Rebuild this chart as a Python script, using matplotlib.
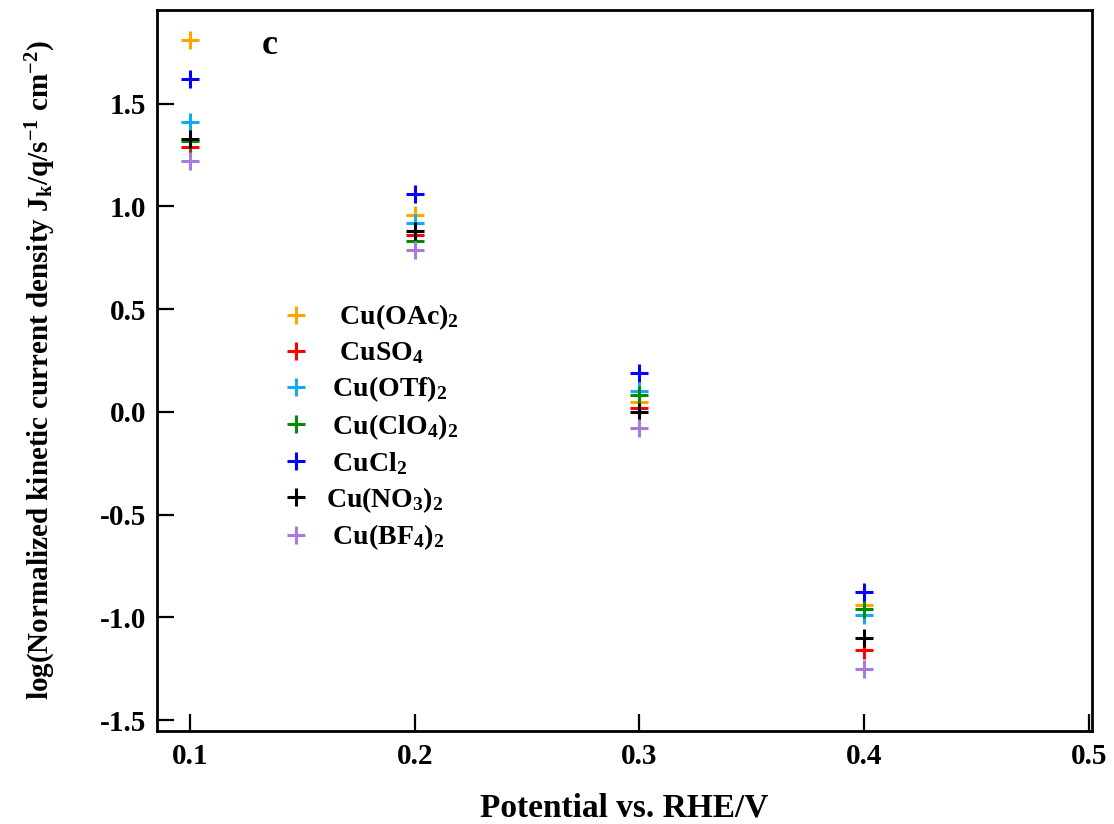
import matplotlib
matplotlib.use("Agg")
import matplotlib.pyplot as plt

# data
potential = [0.1, 0.2, 0.3, 0.4]
labels = [
    r"  Cu(OAc)$_2$",
    r"  CuSO$_4$",
    r" Cu(OTf)$_2$",
    r" Cu(ClO$_4$)$_2$",
    r" CuCl$_2$",
    r"Cu(NO$_3$)$_2$",
    r" Cu(BF$_4$)$_2$",
]
colors = ["#FFA500", "#FF0000", "#10AAF5", "#008C00", "#0000FF", "#000000", "#A57BE0"]
cu_oac = [1.81, 0.96, 0.05, -0.94]
cu_so4 = [1.29, 0.86, 0.02, -1.16]
cu_otf = [1.41, 0.92, 0.10, -0.99]
cu_clo4 = [1.32, 0.83, 0.08, -0.96]
cu_cl2 = [1.62, 1.06, 0.19, -0.875]
cu_no3 = [1.33, 0.88, 0.00, -1.10]
cu_bf4 = [1.22, 0.79, -0.08, -1.25]
series = [cu_oac, cu_so4, cu_otf, cu_clo4, cu_cl2, cu_no3, cu_bf4]

plt.rcParams["font.family"] = ["Liberation Serif", "DejaVu Serif"]
plt.rcParams["font.weight"] = "bold"
plt.rcParams["mathtext.fontset"] = "custom"
plt.rcParams["mathtext.rm"] = "Liberation Serif:bold"
plt.rcParams["mathtext.it"] = "Liberation Serif:bold"
plt.rcParams["mathtext.bf"] = "Liberation Serif:bold"

fig = plt.figure(figsize=(11.14, 8.24), dpi=100)
ax = fig.add_axes([0.141, 0.113, 0.839, 0.875])

for ys, lab, c in zip(series, labels, colors):
    ax.plot(potential, ys, linestyle="none", marker="+", markersize=13,
            markeredgewidth=2.2, color=c, label=lab)

ax.set_xlim(0.0853, 0.5013)
ax.set_ylim(-1.552, 1.956)
ax.set_xticks([0.1, 0.2, 0.3, 0.4, 0.5])
ax.set_yticks([-1.5, -1.0, -0.5, 0.0, 0.5, 1.0, 1.5])
ax.set_xticklabels(["0.1", "0.2", "0.3", "0.4", "0.5"])
ax.set_yticklabels(["-1.5", "-1.0", "-0.5", "0.0", "0.5", "1.0", "1.5"])
ax.tick_params(direction="in", length=12, width=1.6, labelsize=21)
ax.tick_params(axis="x", pad=9)
ax.tick_params(axis="y", pad=8)
for sp in ax.spines.values():
    sp.set_linewidth(2)

ax.set_xlabel("Potential vs. RHE/V", fontsize=24, fontweight="bold", labelpad=16)
ax.set_ylabel(r"log(Normalized kinetic current density J$_\mathrm{k}$/q/s$^{-1}$ cm$^{-2}$)",
              fontsize=21, fontweight="bold", labelpad=30)

ax.text(0.112, 0.951, "c", transform=ax.transAxes, fontsize=26,
        fontweight="bold", va="center", ha="left")

ax.legend(loc="upper left", bbox_to_anchor=(0.134, 0.594), frameon=False,
          fontsize=20, handletextpad=0.58, labelspacing=0.29, handlelength=1.0,
          borderaxespad=0, borderpad=0)

fig.savefig("out.png", dpi=100)
